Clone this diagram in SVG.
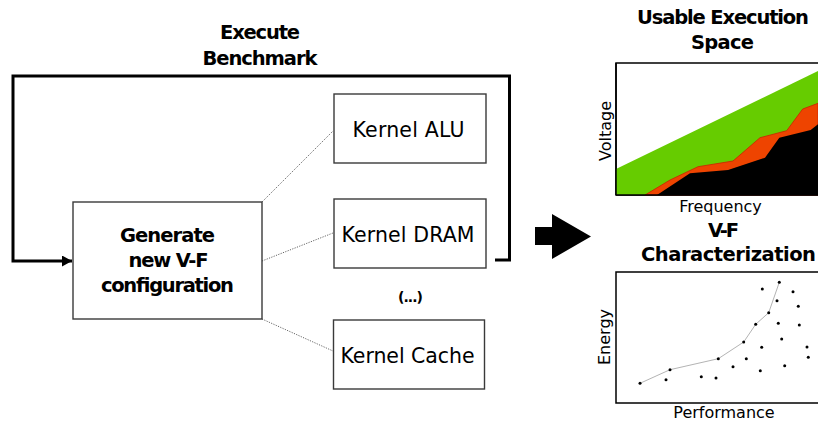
<svg xmlns="http://www.w3.org/2000/svg" width="818" height="424" viewBox="0 0 818 424">
<style>
.bold{font-family:"DejaVu Sans",Verdana,sans-serif;font-weight:bold;font-size:19.5px;fill:#000;text-anchor:middle}
.reg{font-family:"DejaVu Sans",Verdana,sans-serif;font-size:20.5px;fill:#000;text-anchor:middle}
.axis{font-family:"DejaVu Sans",Verdana,sans-serif;font-size:16px;fill:#000;text-anchor:middle}
.box{fill:#fff;stroke:#3a3a3a;stroke-width:1.4}
.dot{stroke:#666;stroke-width:1;stroke-dasharray:1.2 1.3;fill:none}
.loop{fill:none;stroke:#000;stroke-width:3}
.frame{fill:#fff;stroke:#000;stroke-width:1.5}
.pt{fill:#000}
</style>
<defs>
<marker id="ah" markerUnits="userSpaceOnUse" markerWidth="10" markerHeight="11" refX="10" refY="5.5" orient="auto">
<path d="M0,0 L10,5.5 L0,11 Z" fill="#000"/>
</marker>
</defs>

<g id="connectors">
<path class="loop" d="M495,260 H509.5 V76 H13 V261 H72" marker-end="url(#ah)"/>
<line class="dot" x1="262" y1="202" x2="333" y2="131"/>
<line class="dot" x1="262" y1="261" x2="333" y2="233"/>
<line class="dot" x1="262" y1="319" x2="333" y2="351"/>
<polygon points="535,227 552,227 552,214 591,236.5 552,259 552,245 535,245" fill="#000"/>
</g>

<g id="label-execute">
<text class="bold" x="260" y="39" textLength="80" lengthAdjust="spacing">Execute</text>
<text class="bold" x="260" y="64.5" textLength="115" lengthAdjust="spacing">Benchmark</text>
</g>

<g id="node-generate">
<rect class="box" x="73" y="202" width="189" height="117"/>
<text class="bold" x="167.5" y="241.5" textLength="95" lengthAdjust="spacing">Generate</text>
<text class="bold" x="168.5" y="267" textLength="80" lengthAdjust="spacing">new V-F</text>
<text class="bold" x="167.5" y="292" textLength="133" lengthAdjust="spacing">configuration</text>
</g>

<g id="node-alu">
<rect class="box" x="334" y="94" width="152" height="69"/>
<text class="reg" x="408.5" y="137" textLength="112" lengthAdjust="spacing">Kernel ALU</text>
</g>

<g id="node-dram">
<rect class="box" x="334" y="199" width="152" height="69"/>
<text class="reg" x="408" y="242" textLength="133" lengthAdjust="spacing">Kernel DRAM</text>
</g>

<g id="label-more">
<text class="bold" x="410" y="302" style="font-size:14px" letter-spacing="-1">(...)</text>
</g>

<g id="node-cache">
<rect class="box" x="333.5" y="320" width="151" height="69"/>
<text class="reg" x="407.5" y="362.5" textLength="134" lengthAdjust="spacing">Kernel Cache</text>
</g>

<g id="chart-space">
<text class="bold" x="723" y="23.5" textLength="172" lengthAdjust="spacing">Usable Execution</text>
<text class="bold" x="722.5" y="48.5" textLength="63" lengthAdjust="spacing">Space</text>
<rect class="frame" x="616" y="63" width="210" height="132"/>
<polygon points="616,169 818,71 818,195 616,195" fill="#66cc00"/>
<polygon points="645,195 670,180 698,166.7 733,161 760,137.7 786.7,130.7 802.7,109 818,103.3 818,195" fill="#ee4400" stroke="#cc2200" stroke-width="0.8"/>
<polygon points="657,195 690,173.3 728,170 765,157.7 779.3,137.7 810.7,130 818,124.3 818,195" fill="#000"/>
<line x1="616" y1="195" x2="818" y2="195" stroke="#000" stroke-width="1.5"/>
<line x1="616" y1="63" x2="616" y2="195" stroke="#000" stroke-width="1.5"/>
<text class="axis" transform="translate(611,131) rotate(-90)">Voltage</text>
<text class="axis" x="720.5" y="211.5">Frequency</text>
</g>

<g id="chart-vf">
<text class="bold" x="723.5" y="237" textLength="31" lengthAdjust="spacing">V-F</text>
<text class="bold" x="728.5" y="261" textLength="175" lengthAdjust="spacing">Characterization</text>
<rect class="frame" x="616" y="272" width="210" height="131"/>
<polyline points="640,383.3 670,369.7 718.3,358.7 743.7,342 755.7,324.3 768.7,312.7 779.3,282.3" fill="none" stroke="#aaa" stroke-width="0.9"/>
<g class="pt">
<circle cx="640" cy="383.3" r="1.5"/>
<circle cx="670" cy="369.7" r="1.5"/>
<circle cx="666" cy="379.7" r="1.5"/>
<circle cx="701.3" cy="376.7" r="1.5"/>
<circle cx="716" cy="378" r="1.5"/>
<circle cx="718.3" cy="358.7" r="1.5"/>
<circle cx="733" cy="366.7" r="1.5"/>
<circle cx="743.7" cy="342" r="1.5"/>
<circle cx="746.3" cy="358.7" r="1.5"/>
<circle cx="755.7" cy="324.3" r="1.5"/>
<circle cx="760.3" cy="370.7" r="1.5"/>
<circle cx="761.7" cy="347.3" r="1.5"/>
<circle cx="762.3" cy="289" r="1.5"/>
<circle cx="768.7" cy="312.7" r="1.5"/>
<circle cx="777" cy="300.7" r="1.5"/>
<circle cx="778.3" cy="323.3" r="1.5"/>
<circle cx="779.3" cy="282.3" r="1.5"/>
<circle cx="781.7" cy="339" r="1.5"/>
<circle cx="784.7" cy="365.7" r="1.5"/>
<circle cx="793" cy="291.7" r="1.5"/>
<circle cx="798.3" cy="306.3" r="1.5"/>
<circle cx="799.3" cy="325" r="1.5"/>
<circle cx="807" cy="347" r="1.5"/>
<circle cx="808.3" cy="357.3" r="1.5"/>
</g>
<text class="axis" transform="translate(610,337) rotate(-90)">Energy</text>
<text class="axis" x="724" y="418">Performance</text>
</g>
</svg>
